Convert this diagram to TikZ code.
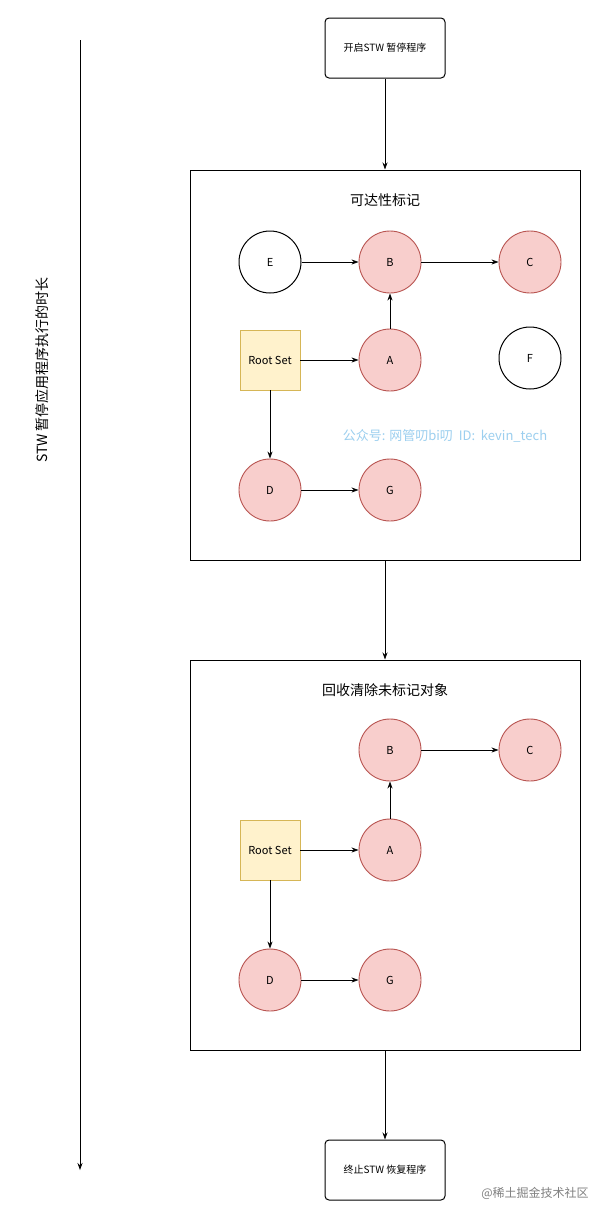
\documentclass[tikz,border=0pt]{standalone}
\usepackage{fontspec}
\setmainfont{Noto Sans CJK SC}
\usetikzlibrary{arrows.meta}
\definecolor{rfill}{HTML}{F8CECC}
\definecolor{rdraw}{HTML}{B85450}
\definecolor{yfill}{HTML}{FFF2CC}
\definecolor{ydraw}{HTML}{D6B656}
\definecolor{wmblue}{HTML}{9CCFEF}
\tikzset{
 x=1pt,y=-1pt,
 red/.style={circle,minimum size=62pt,draw=rdraw,fill=rfill,line width=0.9pt,font=\fontsize{11}{12}\selectfont,inner sep=0},
 wht/.style={circle,minimum size=62pt,draw=black,fill=white,line width=1pt,font=\fontsize{11}{12}\selectfont,inner sep=0},
 rootbox/.style={rectangle,minimum size=60pt,draw=ydraw,fill=yfill,line width=0.9pt,font=\fontsize{11}{12}\selectfont,inner sep=0},
 bigbox/.style={rectangle,draw=black,line width=1pt,minimum width=390pt,minimum height=390pt},
 termbox/.style={rectangle,rounded corners=4pt,draw=black,line width=1pt,minimum width=120pt,minimum height=60pt,font=\fontsize{10}{12}\selectfont},
 title/.style={font=\fontsize{14}{16}\selectfont},
 arr/.style={-{Stealth[length=7pt,width=5pt]},line width=0.8pt}
}
\begin{document}
\begin{tikzpicture}
\useasboundingbox[fill=white] (0,0) rectangle (601,1221);
\node[termbox] (start) at (385,48) {开启STW 暂停程序};
\node[bigbox] (box1) at (385,365) {};
\node[title] (t1) at (385,200) {可达性标记};
\node[wht] (E) at (270,262) {E};
\node[red] (B) at (390,262) {B};
\node[red] (C) at (530,262) {C};
\node[rootbox] (R) at (270,360) {Root Set};
\node[red] (A) at (390,360) {A};
\node[wht] (F) at (530,358) {F};
\node[red] (D) at (270,490) {D};
\node[red] (G) at (390,490) {G};
\node[text=wmblue,font=\fontsize{13}{14}\selectfont] (wm) at (445,436) {公众号: 网管叨bi叨\ \ ID:\ \ kevin\_tech};
\draw[arr] (E) -- (B);
\draw[arr] (B) -- (C);
\draw[arr] (A) -- (B);
\draw[arr] (R) -- (A);
\draw[arr] (R) -- (D);
\draw[arr] (D) -- (G);
\node[bigbox] (box2) at (385,855) {};
\node[title] (t2) at (385,690) {回收清除未标记对象};
\node[red] (B2) at (390,750) {B};
\node[red] (C2) at (530,750) {C};
\node[rootbox] (R2) at (270,850) {Root Set};
\node[red] (A2) at (390,850) {A};
\node[red] (D2) at (270,980) {D};
\node[red] (G2) at (390,980) {G};
\draw[arr] (B2) -- (C2);
\draw[arr] (A2) -- (B2);
\draw[arr] (R2) -- (A2);
\draw[arr] (R2) -- (D2);
\draw[arr] (D2) -- (G2);
\node[termbox] (end) at (385,1170) {终止STW 恢复程序};
\draw[arr] (start) -- (box1);
\draw[arr] (box1) -- (box2);
\draw[arr] (box2) -- (end);
\coordinate (ts) at (80,40);
\coordinate (te) at (80,1170);
\draw[arr] (ts) -- (te);
\node[rotate=90,font=\fontsize{14}{16}\selectfont] (side) at (42,370) {STW 暂停应用程序执行的时长};
\node[text=gray,font=\fontsize{12}{14}\selectfont] (wm2) at (535,1193) {@稀土掘金技术社区};
\end{tikzpicture}
\end{document}
